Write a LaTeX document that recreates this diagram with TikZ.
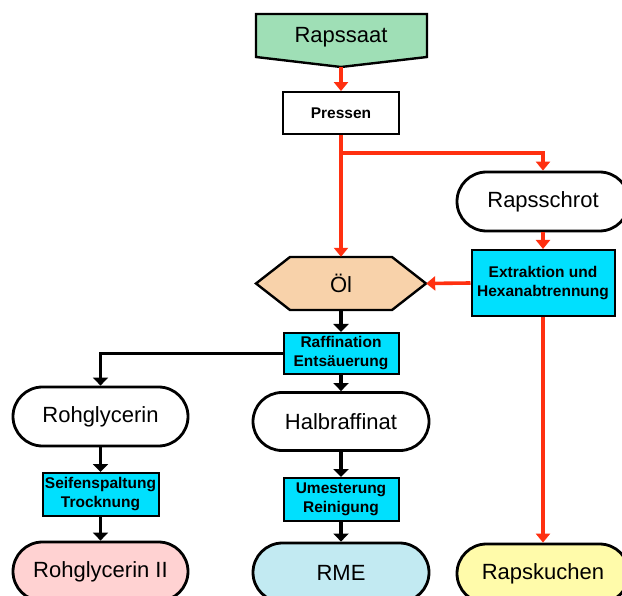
\documentclass[tikz,border=0pt]{standalone}
\usepackage{fontspec}
\setmainfont{Liberation Sans}
\usetikzlibrary{arrows.meta,shapes.misc}
\definecolor{seedgreen}{HTML}{9FDFB6}
\definecolor{procblue}{HTML}{00E0FE}
\definecolor{oilpeach}{HTML}{F8D2AA}
\definecolor{glycpink}{HTML}{FFD2D2}
\definecolor{rmeblue}{HTML}{C2EAF2}
\definecolor{cakeyellow}{HTML}{FFFBAA}
\definecolor{flowred}{HTML}{FF3010}
\tikzset{
  bigtext/.style={font=\fontsize{22}{26}\selectfont},
  smalltext/.style={font=\fontsize{15.5}{19}\selectfont\bfseries, align=center},
  product/.style={bigtext, draw, line width=2.8pt, rounded rectangle, inner sep=0pt},
  procbox/.style={smalltext, draw, line width=2pt, fill=procblue, inner sep=0pt},
  plainbox/.style={smalltext, draw, line width=1.8pt, fill=white, inner sep=0pt},
  redflow/.style={draw=flowred, line width=3.6pt, -{Triangle[width=14pt,length=9pt]}},
  blackflow/.style={draw=black, line width=3.6pt, -{Triangle[width=15pt,length=8pt]}},
}
\begin{document}
\begin{tikzpicture}[x=1pt,y=-1pt]
\clip (0,0) rectangle (622,596);
\fill[white] (0,0) rectangle (622,596);

% raw material: pentagon pointing down
\filldraw[fill=seedgreen, draw=black, line width=2.4pt, line join=miter]
  (256,14) -- (427,14) -- (427,57) -- (341,67) -- (256,57) -- cycle;
\node[bigtext] (saat) at (341,37) {Rapssaat};
\coordinate (saattip) at (341,67);

\node[plainbox, minimum width=116pt, minimum height=42pt] (pressen) at (341,113) {Pressen};

% oil: hexagon
\filldraw[fill=oilpeach, draw=black, line width=2.4pt, line join=miter]
  (256,283.5) -- (290,257) -- (392,257) -- (426,283.5) -- (392,310) -- (290,310) -- cycle;
\node[bigtext, minimum width=170pt, minimum height=53pt, inner sep=0pt] (oel) at (341,283.5) {Öl};

\node[product, minimum width=172pt, minimum height=59pt] (schrot) at (543,201.5) {Rapsschrot};
\node[procbox, minimum width=143pt, minimum height=66pt] (extr) at (543,283) {Extraktion und\\Hexanabtrennung};

\node[procbox, minimum width=115pt, minimum height=41pt] (raff) at (341,353.5) {Raffination\\Entsäuerung};

\node[product, minimum width=175pt, minimum height=59pt] (rohg) at (100.5,416.5) {Rohglycerin};
\node[product, minimum width=176pt, minimum height=58pt] (halb) at (341,421.5) {Halbraffinat};

\node[procbox, minimum width=116pt, minimum height=43pt] (seif) at (100.5,494.5) {Seifenspaltung\\Trocknung};
\node[procbox, minimum width=115pt, minimum height=43pt] (umest) at (341,499.5) {Umesterung\\Reinigung};

\node[product, fill=glycpink, minimum width=175pt, minimum height=59pt] (rohg2) at (100.5,571.5) {Rohglycerin II};
\node[product, fill=rmeblue, minimum width=176pt, minimum height=59pt] (rme) at (341,572.5) {RME};
\node[product, fill=cakeyellow, minimum width=172pt, minimum height=59pt] (kuchen) at (543,573.5) {Rapskuchen};

% red material flows
\draw[redflow] (saattip) -- (pressen.north);
\draw[redflow] (pressen.south) -- (oel.north);
\coordinate (split) at (341,153);
\draw[redflow] (split) -| (schrot.north);
\draw[redflow] (schrot.south) -- (extr.north);
\draw[redflow] (extr.west) -- (oel.east);
\draw[redflow] (extr.south) -- (kuchen.north);

% black refining flows
\draw[blackflow] (oel.south) -- (raff.north);
\draw[blackflow] (raff.west) -| (rohg.north);
\draw[blackflow] (raff.south) -- (halb.north);
\draw[blackflow] (rohg.south) -- (seif.north);
\draw[blackflow] (seif.south) -- (rohg2.north);
\draw[blackflow] (halb.south) -- (umest.north);
\draw[blackflow] (umest.south) -- (rme.north);
\end{tikzpicture}
\end{document}
